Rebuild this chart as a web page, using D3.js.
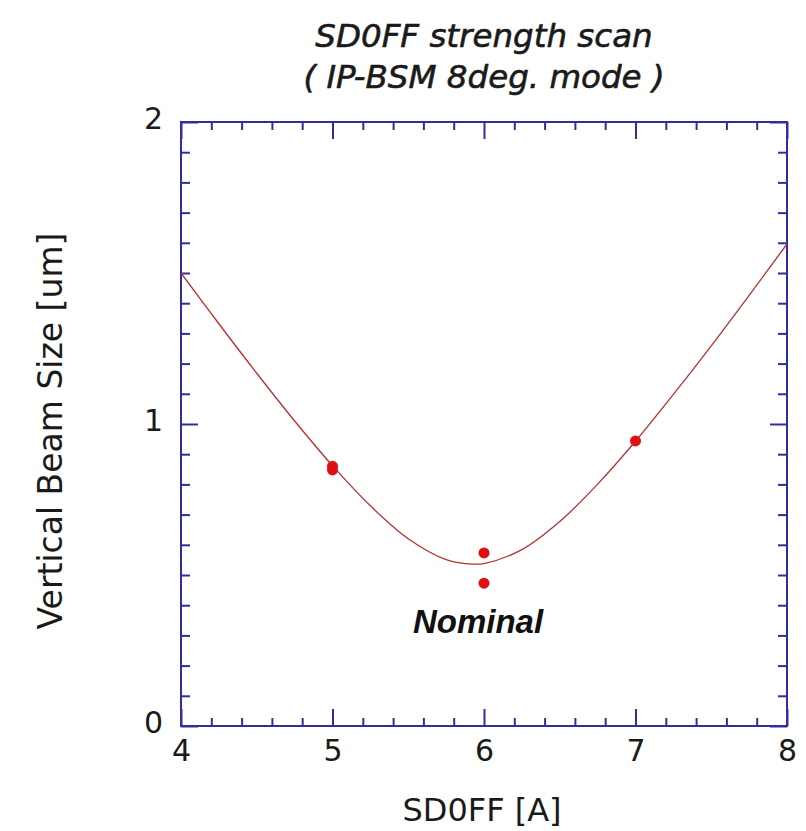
<!DOCTYPE html>
<html>
<head>
<meta charset="utf-8">
<script src="https://cdn.jsdelivr.net/npm/d3@7"></script>
<style>
  html, body { margin: 0; padding: 0; background: #fff; }
  svg { display: block; }
</style>
</head>
<body>
<svg id="chart" width="806" height="831"></svg>
<script>
// ---- data ----
const titleLines = ["SD0FF strength scan", "( IP-BSM 8deg. mode )"];
const xLabel = "SD0FF [A]";
const yLabel = "Vertical Beam Size [um]";
const annotation = "Nominal";
const annotationPos = [6, 0.308];

const xMajorTicks = [4, 5, 6, 7, 8];
const yMajorTicks = [0, 1, 2];

// measured points
const pointX = [5, 5, 6, 6, 7];
const pointY = [0.860, 0.848, 0.573, 0.473, 0.944];

// fitted curve
const curveX = [4.0, 4.25, 4.5, 4.75, 5.0, 5.25, 5.5, 5.75, 5.93, 6.0, 6.25, 6.5, 6.75, 7.0, 7.25, 7.5, 7.75, 8.0];
const curveY = [1.500, 1.332, 1.168, 1.010, 0.862, 0.729, 0.620, 0.551, 0.536, 0.538, 0.584, 0.677, 0.801, 0.943, 1.098, 1.259, 1.426, 1.596];

// ---- layout ----
const svg = d3.select("#chart");
const L = 181, R = 787, T = 122, B = 726;
const axisColor = "#2e2e9e";
const textColor = "#1a1a1a";
const fontMain = "'DejaVu Sans', Verdana, sans-serif";

const x = d3.scaleLinear().domain([4, 8]).range([L, R]);
const y = d3.scaleLinear().domain([0, 2]).range([B, T]);

const xMinor = d3.range(4, 8.0001, 0.2).filter(v => Math.abs(v - Math.round(v)) > 1e-6);
const yMinor = d3.range(0, 2.0001, 0.1).filter(v => Math.abs(v - Math.round(v)) > 1e-6);

function styleAxis(g) {
  g.select(".domain").remove();
  g.selectAll(".tick line").attr("stroke", axisColor).attr("stroke-width", 2);
  g.selectAll(".tick text").attr("fill", textColor)
    .style("font-family", fontMain).style("font-size", "30px");
}

// bottom
svg.append("g").attr("transform", `translate(0,${B})`)
  .call(d3.axisBottom(x).tickValues(xMinor).tickSize(-8).tickFormat(""))
  .call(styleAxis);
svg.append("g").attr("transform", `translate(0,${B})`)
  .call(d3.axisBottom(x).tickValues(xMajorTicks).tickSize(-17).tickPadding(14).tickFormat(d3.format("d")))
  .call(styleAxis);
// top
svg.append("g").attr("transform", `translate(0,${T})`)
  .call(d3.axisTop(x).tickValues(xMinor).tickSize(-8).tickFormat(""))
  .call(styleAxis);
svg.append("g").attr("transform", `translate(0,${T})`)
  .call(d3.axisTop(x).tickValues(xMajorTicks).tickSize(-17).tickFormat(""))
  .call(styleAxis);
// left
svg.append("g").attr("transform", `translate(${L},0)`)
  .call(d3.axisLeft(y).tickValues(yMinor).tickSize(-9).tickFormat(""))
  .call(styleAxis);
const yl = svg.append("g").attr("transform", `translate(${L},0)`)
  .call(d3.axisLeft(y).tickValues(yMajorTicks).tickSize(-17).tickPadding(18).tickFormat(d3.format("d")))
  .call(styleAxis);
yl.selectAll(".tick text").attr("dy", "0.22em");
// right
svg.append("g").attr("transform", `translate(${R},0)`)
  .call(d3.axisRight(y).tickValues(yMinor).tickSize(-9).tickFormat(""))
  .call(styleAxis);
svg.append("g").attr("transform", `translate(${R},0)`)
  .call(d3.axisRight(y).tickValues(yMajorTicks).tickSize(-17).tickFormat(""))
  .call(styleAxis);

// frame
svg.append("rect")
  .attr("x", L).attr("y", T).attr("width", R - L).attr("height", B - T)
  .attr("fill", "none").attr("stroke", axisColor).attr("stroke-width", 2);

// curve
const line = d3.line().x((d, i) => x(curveX[i])).y((d, i) => y(curveY[i])).curve(d3.curveCatmullRom);
svg.append("path")
  .datum(curveY)
  .attr("d", line)
  .attr("fill", "none")
  .attr("stroke", "#b8302f")
  .attr("stroke-width", 1.3);

// points
svg.append("g").selectAll("circle")
  .data(pointX)
  .join("circle")
  .attr("cx", (d) => x(d))
  .attr("cy", (d, i) => y(pointY[i]))
  .attr("r", 5.5)
  .attr("fill", "#e01010");

// annotation
svg.append("text")
  .attr("x", x(annotationPos[0]) - 6)
  .attr("y", y(annotationPos[1]))
  .attr("text-anchor", "middle")
  .style("font-family", "'Liberation Sans', Arial, sans-serif")
  .style("font-size", "33px")
  .style("font-weight", "bold")
  .style("font-style", "italic")
  .attr("fill", "#111")
  .text(annotation);

// title
svg.append("g").selectAll("text")
  .data(titleLines)
  .join("text")
  .attr("x", (L + R) / 2)
  .attr("y", (d, i) => 47 + i * 41)
  .attr("text-anchor", "middle")
  .style("font-family", fontMain)
  .style("font-size", "32.5px")
  .style("font-style", "italic")
  .attr("fill", textColor)
  .attr("stroke", textColor)
  .attr("stroke-width", 0.6)
  .text(d => d);

// axis labels
svg.append("text")
  .attr("x", (L + R) / 2 - 2)
  .attr("y", 821)
  .attr("text-anchor", "middle")
  .style("font-family", fontMain)
  .style("font-size", "32px")
  .attr("fill", textColor)
  .text(xLabel);

svg.append("text")
  .attr("transform", `translate(62,${(T + B) / 2 + 7}) rotate(-90)`)
  .attr("text-anchor", "middle")
  .style("font-family", fontMain)
  .style("font-size", "33px")
  .attr("fill", textColor)
  .text(yLabel);
</script>
</body>
</html>
